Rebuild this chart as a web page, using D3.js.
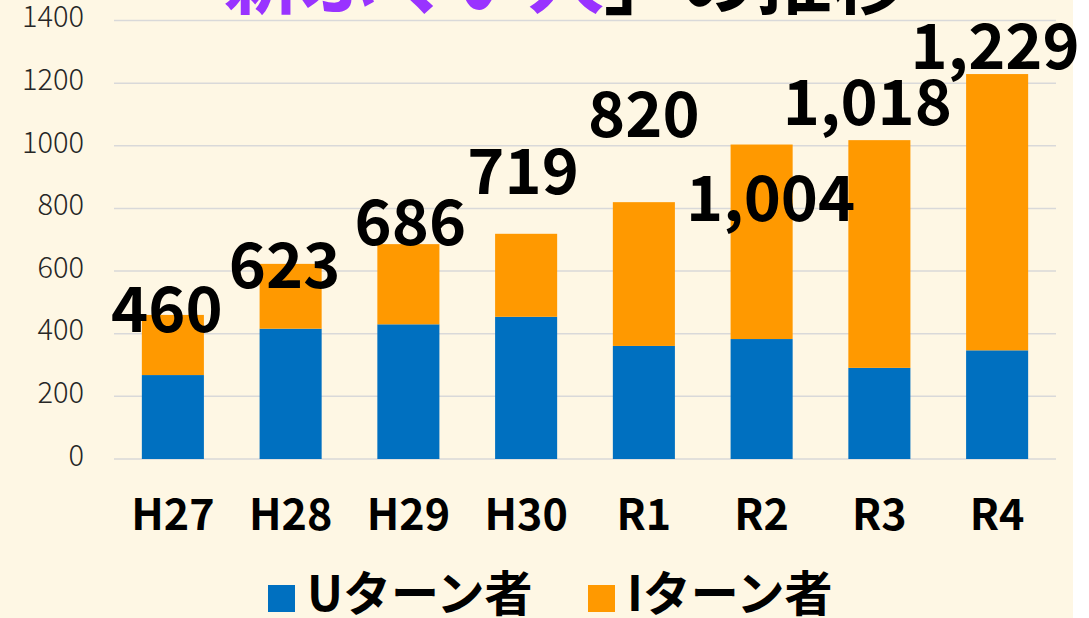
<!DOCTYPE html>
<html><head><meta charset="utf-8">
<script src="https://cdn.jsdelivr.net/npm/d3@7"></script>
<style>
html,body{margin:0;padding:0;background:#fff;}
svg{display:block;}
text{font-family:"Noto Sans CJK JP","Noto Sans",sans-serif;}
</style></head>
<body>
<svg id="chart" width="1089" height="618"></svg>
<script>
// ---- data ----
const categories = ["H27","H28","H29","H30","R1","R2","R3","R4"];
const uTurn  = [268, 416, 430, 454, 361, 383, 291, 347];
const iTurn  = [192, 207, 256, 265, 459, 621, 727, 882];
const totals = [460, 623, 686, 719, 820, 1004, 1018, 1229];
const yTicks = [0, 200, 400, 600, 800, 1000, 1200, 1400];
const seriesNames = ["Uターン者", "Iターン者"];
const titleParts = [["「", "#000"], ["新ふくい人", "#9933ff"], ["」の推移", "#000"]];
// label nudges (manual placement in the original)
const labelNudge = [[-6,17],[-6,24],[2,1],[-3,-40],[0,-65],[9,76],[-12,-15],[-2,-5]];

const colors = ["#0070c0", "#ff9900"];
const W = 1089, H = 618;
const svg = d3.select("#chart");

svg.append("rect").attr("x",0).attr("y",0).attr("width",1073).attr("height",H).attr("fill","#fef7e4");

const x = d3.scaleBand().domain(categories).range([114, 1056]).paddingInner(0.473).paddingOuter(0.2365);
const y = d3.scaleLinear().domain([0, 1400]).range([459, 20.5]);

// gridlines
svg.append("g").selectAll("line").data(yTicks).join("line")
  .attr("x1", 114).attr("x2", 1056)
  .attr("y1", d => y(d)).attr("y2", d => y(d))
  .attr("stroke", "#d9d9d9").attr("stroke-width", 1.5);

// y axis labels
const yAxis = d3.axisLeft(y).tickValues(yTicks).tickFormat(d3.format("d")).tickSize(0).tickPadding(0);
const gy = svg.append("g").attr("transform","translate(84,-3)").call(yAxis);
gy.select(".domain").remove();
gy.selectAll("text").attr("font-size", 29).attr("fill", "#262626")
  .attr("font-family", '"Noto Sans CJK JP",sans-serif').attr("font-weight", 300);

// stacked bars
const rows = categories.map((c,i)=>({cat:c, u:uTurn[i], i:iTurn[i]}));
const stack = d3.stack().keys(["u","i"])(rows);
svg.append("g").selectAll("g").data(stack).join("g")
  .attr("fill", (d,k) => colors[k])
  .selectAll("rect").data(d => d).join("rect")
  .attr("x", d => x(d.data.cat))
  .attr("width", x.bandwidth())
  .attr("y", d => y(d[1]))
  .attr("height", d => y(d[0]) - y(d[1]));

// x axis labels
const xAxis = d3.axisBottom(x).tickSize(0).tickPadding(0);
const gx = svg.append("g").attr("transform","translate(0,459)").call(xAxis);
gx.select(".domain").remove();
gx.selectAll("text").attr("font-size", 43).attr("font-weight", 700).attr("fill","#000")
  .attr("font-family", '"Noto Sans CJK JP",sans-serif')
  .attr("dy", null).attr("y", 71);

// total labels
const fmt = d3.format(",");
svg.append("g").selectAll("text").data(categories).join("text")
  .attr("x", (c,i) => x(c) + x.bandwidth()/2 + labelNudge[i][0])
  .attr("y", (c,i) => y(totals[i]) + labelNudge[i][1])
  .attr("text-anchor","middle").attr("font-size", 63).attr("font-weight", 700).attr("fill","#000")
  .text((c,i) => fmt(totals[i]));

// legend
const legX = [268, 588];
const lg = svg.append("g");
seriesNames.forEach((n,k) => {
  lg.append("rect").attr("x", legX[k]).attr("y", 585).attr("width", 27).attr("height", 27).attr("fill", colors[k]);
  lg.append("text").attr("x", legX[k] + 39).attr("y", 611).attr("font-size", 48).attr("font-weight", 700).attr("fill","#000").text(n);
});

// title (cut off at the top in the original)
const t = svg.append("text").attr("x", 148).attr("y", 8).attr("font-size", 76).attr("font-weight", 700);
titleParts.forEach(p => t.append("tspan").attr("fill", p[1]).text(p[0]));
</script>
</body></html>
